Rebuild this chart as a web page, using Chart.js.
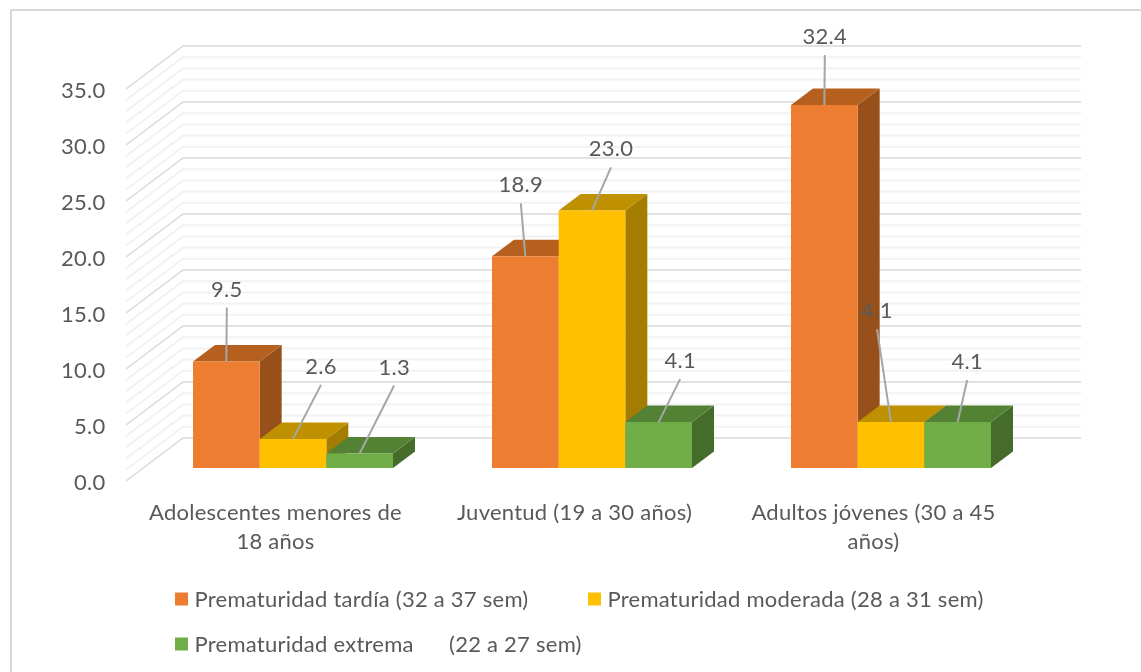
<!DOCTYPE html>
<html>
<head>
<meta charset="utf-8">
<script src="https://cdn.jsdelivr.net/npm/chart.js@4/dist/chart.umd.min.js"></script>
<style>
  html, body { margin: 0; padding: 0; background: #fff; }
  canvas { display: block; }
</style>
</head>
<body>
<canvas id="prematurityChart" width="1141" height="672"></canvas>
<script>
const categories = [
  ['Adolescentes menores de', '18 años'],
  'Juventud (19 a 30 años)',
  ['Adultos jóvenes (30 a 45', 'años)']
];
const seriesNames = [
  'Prematuridad tardía (32 a 37 sem)',
  'Prematuridad moderada (28 a 31 sem)',
  'Prematuridad extrema      (22 a 27 sem)'
];
const lateValues = [9.5, 18.9, 32.4];
const moderateValues = [2.6, 23.0, 4.1];
const extremeValues = [1.3, 4.1, 4.1];

const frontColors = ['#ED7D31', '#FFC000', '#70AD47'];
const topColors = ['#B5601F', '#BF9000', '#548235'];
const sideColors = ['#98501B', '#A47C00', '#466C2C'];

// where each data label sits, measured from the top centre of its bar
const labelShifts = [
  [[0.5, -72], [-4.5, -71], [0.5, -68]],
  [[28, -72], [19, -61], [-14, -111]],
  [[34.5, -86], [21.5, -61], [9.5, -60]]
];

const textColor = '#595959';
const fontFamily = 'Lato, "Open Sans", sans-serif';
const fontSize = 22;
const barDepthX = 22;
const barDepthY = 16.5;

function fillFace(ctx, color, pts) {
  ctx.fillStyle = color;
  ctx.beginPath();
  ctx.moveTo(pts[0][0], pts[0][1]);
  pts.slice(1).forEach(p => ctx.lineTo(p[0], p[1]));
  ctx.closePath();
  ctx.fill();
}

// frame of the picture and the back and side walls of the 3D box
function drawWalls(chart) {
  const ctx = chart.ctx;
  const yScale = chart.scales.y;
  ctx.save();
  ctx.strokeStyle = '#d9d9d9';
  ctx.lineWidth = 2;
  ctx.beginPath();
  ctx.moveTo(11, 672);
  ctx.lineTo(11, 10);
  ctx.lineTo(1141, 10);
  ctx.stroke();
  for (let v = yScale.min; v <= yScale.max; v++) {
    const y = yScale.getPixelForValue(v);
    const major = v % 5 === 0;
    ctx.strokeStyle = major ? '#d9d9d9' : '#f2f2f2';
    ctx.lineWidth = major ? 1.5 : 2;
    ctx.beginPath();
    ctx.moveTo(126, y + 13);
    ctx.lineTo(183, y - 30);
    ctx.lineTo(1081, y - 30);
    ctx.stroke();
  }
  ctx.restore();
}

// the original font runs a little wider than Lato
const textSpacingPlugin = {
  id: 'textSpacing',
  beforeDraw(chart) {
    chart.ctx.letterSpacing = '0.25px';
  }
};

// Bars have to be painted left to right so each front covers the side of the
// one before it. Chart.js paints the first dataset last, so do it by hand.
const boxBarsPlugin = {
  id: 'boxBars',
  beforeDatasetsDraw(chart) {
    const ctx = chart.ctx;
    drawWalls(chart);
    chart.data.datasets.forEach((ds, i) => {
      chart.getDatasetMeta(i).data.forEach(bar => {
        const left = bar.x - bar.width / 2;
        const right = bar.x + bar.width / 2;
        fillFace(ctx, sideColors[i], [
          [right, bar.y], [right + barDepthX, bar.y - barDepthY],
          [right + barDepthX, bar.base - barDepthY], [right, bar.base]
        ]);
        fillFace(ctx, topColors[i], [
          [left, bar.y], [left + barDepthX, bar.y - barDepthY],
          [right + barDepthX, bar.y - barDepthY], [right, bar.y]
        ]);
        bar.draw(ctx);
      });
    });
    return false;
  }
};

const dataLabelsPlugin = {
  id: 'dataLabels',
  afterDraw(chart) {
    const ctx = chart.ctx;
    ctx.save();
    ctx.font = fontSize + 'px ' + fontFamily;
    ctx.textAlign = 'center';
    ctx.textBaseline = 'middle';
    chart.data.datasets.forEach((ds, i) => {
      chart.getDatasetMeta(i).data.forEach((bar, j) => {
        const shift = labelShifts[i][j];
        const lx = bar.x + shift[0];
        const ly = bar.y + shift[1];
        ctx.strokeStyle = '#a6a6a6';
        ctx.lineWidth = 2;
        ctx.beginPath();
        ctx.moveTo(lx, ly + 18);
        ctx.lineTo(bar.x, bar.y);
        ctx.stroke();
        ctx.fillStyle = textColor;
        ctx.fillText(ds.data[j].toFixed(1), lx, ly);
      });
    });
    ctx.restore();
  }
};

// legend columns do not line up with the built-in one, so it is drawn here
const legendPlugin = {
  id: 'sideLegend',
  afterDraw(chart) {
    const ctx = chart.ctx;
    const spots = [[175, 600], [588, 600], [175, 645]];
    ctx.save();
    ctx.font = fontSize + 'px ' + fontFamily;
    ctx.textAlign = 'left';
    ctx.textBaseline = 'middle';
    chart.data.datasets.forEach((ds, i) => {
      const [x, y] = spots[i];
      ctx.fillStyle = ds.backgroundColor;
      ctx.fillRect(x, y - 7.5, 13, 13);
      ctx.fillStyle = textColor;
      ctx.fillText(ds.label, x + 19.5, y);
    });
    ctx.restore();
  }
};

new Chart(document.getElementById('prematurityChart'), {
  type: 'bar',
  data: {
    labels: categories,
    datasets: [
      { label: seriesNames[0], data: lateValues, backgroundColor: frontColors[0] },
      { label: seriesNames[1], data: moderateValues, backgroundColor: frontColors[1] },
      { label: seriesNames[2], data: extremeValues, backgroundColor: frontColors[2] }
    ]
  },
  options: {
    responsive: false,
    animation: false,
    layout: { padding: { top: 76, right: 100.5, bottom: 0, left: 0 } },
    plugins: { legend: { display: false }, tooltip: { enabled: false } },
    datasets: { bar: { categoryPercentage: 200 / 299, barPercentage: 1 } },
    scales: {
      x: {
        afterFit: scale => { scale.height = 204; },
        grid: { display: false },
        border: { display: false },
        ticks: {
          color: textColor,
          font: { family: fontFamily, size: fontSize, lineHeight: 1.32 },
          padding: 22,
          labelOffset: -17.5,
          maxRotation: 0,
          autoSkip: false
        }
      },
      y: {
        min: 0,
        max: 35,
        afterFit: scale => { scale.width = 143.5; },
        grid: { display: false },
        border: { display: false },
        ticks: {
          stepSize: 5,
          color: textColor,
          font: { family: fontFamily, size: fontSize },
          padding: 30,
          labelOffset: 14.5,
          callback: value => value.toFixed(1)
        }
      }
    }
  },
  plugins: [textSpacingPlugin, boxBarsPlugin, dataLabelsPlugin, legendPlugin]
});
</script>
</body>
</html>
